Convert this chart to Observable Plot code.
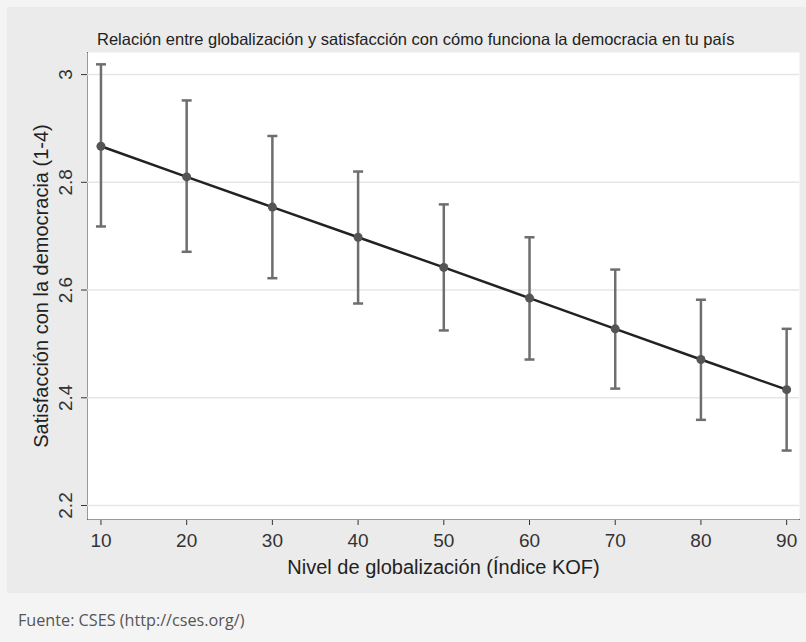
<!DOCTYPE html>
<html>
<head>
<meta charset="utf-8">
<script src="https://cdn.jsdelivr.net/npm/d3@7"></script>
<script src="https://cdn.jsdelivr.net/npm/@observablehq/plot@0.6"></script>
<style>
  html, body { margin: 0; padding: 0; background: #f4f4f4; }
  #wrap { position: relative; width: 806px; height: 642px; background: #f4f4f4; overflow: hidden; }
  #panel { position: absolute; left: 7px; top: 7px; width: 799px; height: 586px; background: #ebebeb; }
  #chart { position: absolute; left: 0; top: 0; }
  #title { position: absolute; left: 97px; top: 30px; font: 16.5px "Liberation Sans", Arial, sans-serif; color: #222; white-space: nowrap; }
  #caption { position: absolute; left: 18px; top: 609px; font: 16.2px "Open Sans", "Noto Sans", sans-serif; color: #555; white-space: nowrap; }
</style>
</head>
<body>
<div id="wrap">
  <div id="panel"></div>
  <div id="chart"></div>
  <div id="title">Relación entre globalización y satisfacción con cómo funciona la democracia en tu país</div>
  <div id="caption">Fuente: CSES (http://cses.org/)</div>
</div>
<script>
// Data
const kof = [10, 20, 30, 40, 50, 60, 70, 80, 90];
const satisfaction = [2.867, 2.810, 2.754, 2.698, 2.642, 2.585, 2.528, 2.471, 2.415];
const ciLow = [2.718, 2.671, 2.622, 2.575, 2.525, 2.471, 2.417, 2.359, 2.302];
const ciHigh = [3.019, 2.952, 2.886, 2.820, 2.759, 2.698, 2.638, 2.582, 2.528];
const xTicks = [10, 20, 30, 40, 50, 60, 70, 80, 90];
const yTicks = [2.2, 2.4, 2.6, 2.8, 3];
const xLabel = "Nivel de globalización (Índice KOF)";
const yLabel = "Satisfacción con la democracia (1-4)";

const data = kof.map((x, i) => ({x, y: satisfaction[i], lo: ciLow[i], hi: ciHigh[i]}));

const capSymbol = {
  draw(context, size) {
    const w = 5;
    context.moveTo(-w, 0);
    context.lineTo(w, 0);
  }
};

const chart = Plot.plot({
  width: 806,
  height: 593,
  marginLeft: 87,
  marginRight: 7,
  marginTop: 52,
  marginBottom: 74,
  style: {
    background: "transparent",
    fontFamily: "'Liberation Sans', Arial, sans-serif",
    fontSize: "19px",
    color: "#333"
  },
  x: {
    domain: [8.43, 91.5],
    ticks: xTicks,
    tickSize: 6,
    tickPadding: 8,
    tickFormat: d => String(d),
    label: null,
    line: true
  },
  y: {
    domain: [2.174, 3.041],
    ticks: yTicks,
    tickSize: 6,
    tickPadding: 10,
    tickRotate: -90,
    tickFormat: d => String(d),
    label: null,
    line: true
  },
  marks: [
    Plot.frame({fill: "white", stroke: "none"}),
    Plot.ruleY(yTicks, {stroke: "#e6e6e6", strokeWidth: 1.5}),
    Plot.ruleX(data, {x: "x", y1: "lo", y2: "hi", stroke: "#6e6e6e", strokeWidth: 2.5}),
    Plot.dot(data, {x: "x", y: "lo", symbol: capSymbol, stroke: "#6e6e6e", strokeWidth: 2.5, fill: "none", r: 5}),
    Plot.dot(data, {x: "x", y: "hi", symbol: capSymbol, stroke: "#6e6e6e", strokeWidth: 2.5, fill: "none", r: 5}),
    Plot.line(data, {x: "x", y: "y", stroke: "#222", strokeWidth: 2.5}),
    Plot.dot(data, {x: "x", y: "y", r: 4.5, fill: "#555", stroke: "none"}),
    Plot.text([xLabel], {text: d => d, frameAnchor: "bottom", textAnchor: "middle", lineAnchor: "middle", dy: 48, fill: "#222", fontSize: 20}),
    Plot.text([yLabel], {text: d => d, frameAnchor: "left", textAnchor: "middle", lineAnchor: "middle", rotate: -90, dx: -46, fill: "#222", fontSize: 20})
  ]
});
document.getElementById("chart").appendChild(chart);
</script>
</body>
</html>
